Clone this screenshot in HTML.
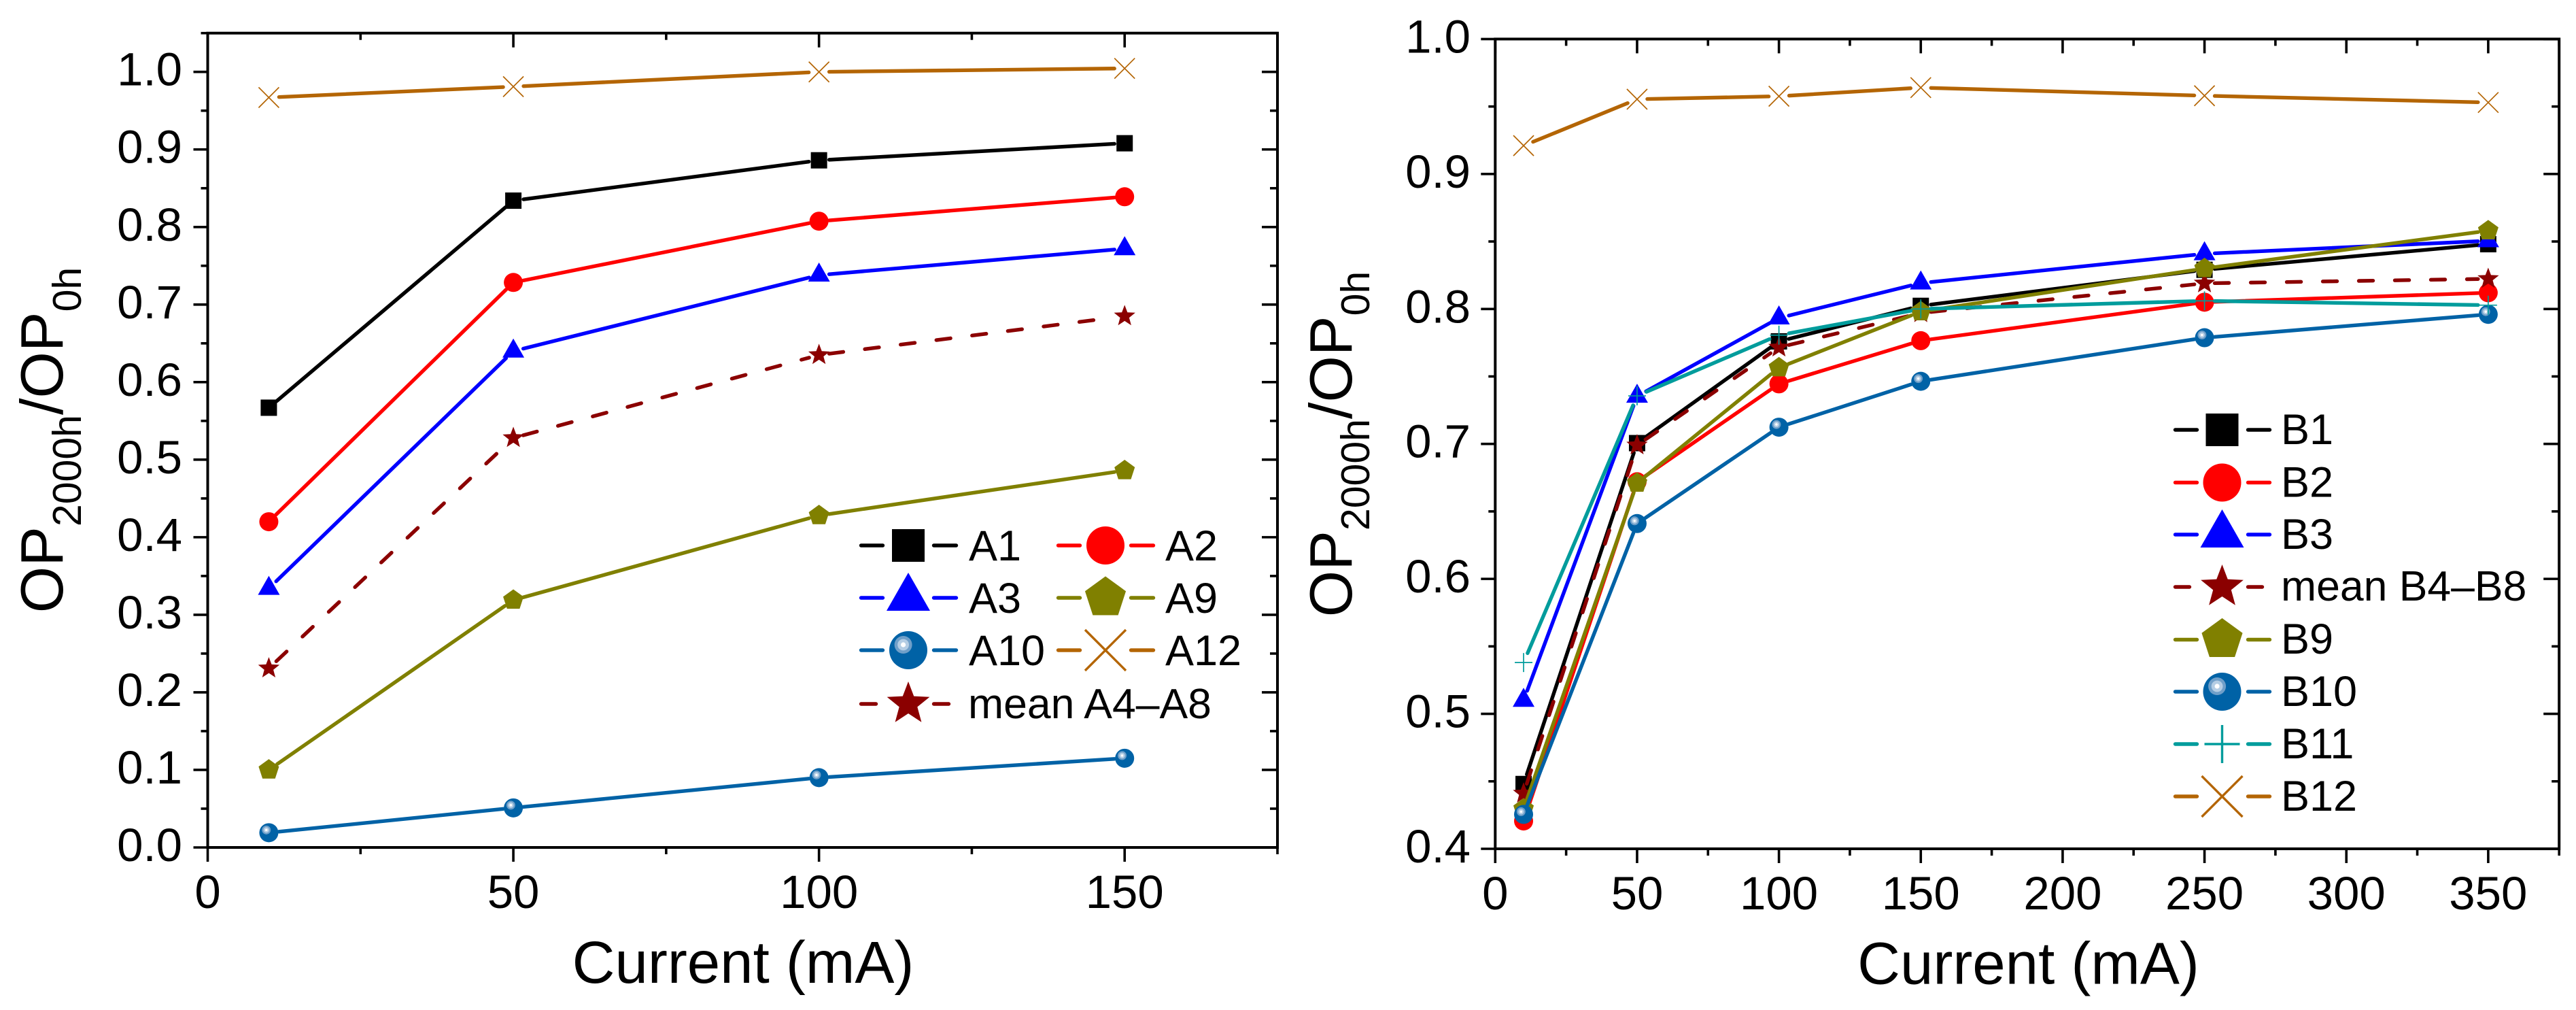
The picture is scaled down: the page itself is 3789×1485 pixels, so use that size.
<!DOCTYPE html>
<html lang="en">
<head>
<meta charset="utf-8">
<title>OP2000h/OP0h versus current</title>
<style>
html,body{margin:0;padding:0;background:#fff;}
svg{display:block;background:#fff;}
text{font-family:"Liberation Sans",Arial,sans-serif;fill:#000;}
</style>
</head>
<body>
<svg id="figure" xmlns="http://www.w3.org/2000/svg" width="3789" height="1485" viewBox="0 0 3789 1485">
  <g id="panel-a">
    <text x="1093" y="1445" font-size="87" text-anchor="middle">Current (mA)</text>
    <text transform="translate(92 647) rotate(-90)" font-size="88" text-anchor="middle">OP<tspan dy="27" font-size="59">2000h</tspan><tspan dy="-27">/OP</tspan><tspan dy="27" font-size="59">0h</tspan></text>
    <g id="axes-a"></g>
    <g id="marks-a"></g>
    <g font-size="63">
      <g id="leg-a1"><text x="1425" y="824">A1</text></g>
      <g id="leg-a2"><text x="1714" y="824">A2</text></g>
      <g id="leg-a3"><text x="1425" y="901">A3</text></g>
      <g id="leg-a9"><text x="1714" y="901">A9</text></g>
      <g id="leg-a10"><text x="1425" y="978">A10</text></g>
      <g id="leg-a12"><text x="1714" y="978">A12</text></g>
      <g id="leg-ameans"><text x="1424" y="1056" font-size="62.5">mean A4–A8</text></g>
    </g>
  </g>
  <g id="panel-b">
    <text x="2983.5" y="1446.5" font-size="87" text-anchor="middle">Current (mA)</text>
    <text transform="translate(1988 653) rotate(-90)" font-size="88" text-anchor="middle">OP<tspan dy="26" font-size="59">2000h</tspan><tspan dy="-26">/OP</tspan><tspan dy="26" font-size="59">0h</tspan></text>
    <g id="axes-b"></g>
    <g id="marks-b"></g>
    <g font-size="63">
      <g id="leg-b1"><text x="3355" y="653">B1</text></g>
      <g id="leg-b2"><text x="3355" y="730.5">B2</text></g>
      <g id="leg-b3"><text x="3355" y="807">B3</text></g>
      <g id="leg-bmeans"><text x="3355" y="883" font-size="62.5">mean B4–B8</text></g>
      <g id="leg-b9"><text x="3355" y="961">B9</text></g>
      <g id="leg-b10"><text x="3355" y="1038">B10</text></g>
      <g id="leg-b11"><text x="3355" y="1115">B11</text></g>
      <g id="leg-b12"><text x="3355" y="1192">B12</text></g>
    </g>
  </g>
</svg>
<script>
// ---- chart data: left panel ----
const currentsA = [10, 50, 100, 150];
const valuesA1 = [0.567, 0.834, 0.886, 0.908];
const valuesA2 = [0.420, 0.7285, 0.8075, 0.839];
const valuesA3 = [0.334, 0.640, 0.738, 0.772];
const valuesA9 = [0.100, 0.319, 0.428, 0.486];
const valuesA10 = [0.019, 0.051, 0.090, 0.115];
const valuesA12 = [0.967, 0.981, 1.000, 1.0045];
const valuesMeanA = [0.231, 0.528, 0.635, 0.685];
const xTickLabelsA = ['0', '50', '100', '150'];
const xMinorTicksA = [25, 75, 125, 175];
const yTickLabelsA = ['0.0', '0.1', '0.2', '0.3', '0.4', '0.5', '0.6', '0.7', '0.8', '0.9', '1.0'];
const yMinorTicksA = [0.05, 0.15, 0.25, 0.35, 0.45, 0.55, 0.65, 0.75, 0.85, 0.95, 1.05];

// ---- chart data: right panel ----
const currentsB = [10, 50, 100, 150, 250, 350];
const valuesB1 = [0.448, 0.7006, 0.776, 0.8023, 0.829, 0.848];
const valuesB2 = [0.4206, 0.672, 0.7445, 0.7765, 0.805, 0.812];
const valuesB3 = [0.510, 0.7353, 0.7933, 0.8192, 0.8409, 0.8505];
const valuesMeanB = [0.441, 0.699, 0.7715, 0.797, 0.819, 0.8223];
const valuesB9 = [0.4296, 0.671, 0.7565, 0.798, 0.830, 0.858];
const valuesB10 = [0.4255, 0.641, 0.7124, 0.7464, 0.7787, 0.796];
const valuesB11 = [0.538, 0.7356, 0.7806, 0.800, 0.806, 0.8028];
const valuesB12 = [0.921, 0.9554, 0.9576, 0.964, 0.958, 0.953];
const xTickLabelsB = ['0', '50', '100', '150', '200', '250', '300', '350'];
const xMinorTicksB = [25, 75, 125, 175, 225, 275, 325, 375];
const yTickLabelsB = ['0.4', '0.5', '0.6', '0.7', '0.8', '0.9', '1.0'];
const yMinorTicksB = [0.45, 0.55, 0.65, 0.75, 0.85, 0.95];

const BLACK = '#000000', RED = '#ff0000', BLUE = '#0000ff', MAROON = '#8b0000',
      OLIVE = '#808000', BALL = '#0062a6', TEAL = '#009c9c', BROWN = '#b46504';

const seriesA = [
  {name: 'a1', values: valuesA1, color: BLACK, marker: 'square'},
  {name: 'a2', values: valuesA2, color: RED, marker: 'circle'},
  {name: 'a3', values: valuesA3, color: BLUE, marker: 'triangle'},
  {name: 'a9', values: valuesA9, color: OLIVE, marker: 'pentagon'},
  {name: 'a10', values: valuesA10, color: BALL, marker: 'ball'},
  {name: 'a12', values: valuesA12, color: BROWN, marker: 'cross'},
  {name: 'mean-a4-a8', values: valuesMeanA, color: MAROON, marker: 'star', dashed: true}
];
const seriesB = [
  {name: 'b1', values: valuesB1, color: BLACK, marker: 'square'},
  {name: 'b2', values: valuesB2, color: RED, marker: 'circle'},
  {name: 'b3', values: valuesB3, color: BLUE, marker: 'triangle'},
  {name: 'mean-b4-b8', values: valuesMeanB, color: MAROON, marker: 'star', dashed: true},
  {name: 'b9', values: valuesB9, color: OLIVE, marker: 'pentagon'},
  {name: 'b10', values: valuesB10, color: BALL, marker: 'ball'},
  {name: 'b11', values: valuesB11, color: TEAL, marker: 'plus'},
  {name: 'b12', values: valuesB12, color: BROWN, marker: 'cross'}
];

const SVG_NS = 'http://www.w3.org/2000/svg';
const LINE_WIDTH = 5.4;
function mk(tag, attrs, parent) {
  const el = document.createElementNS(SVG_NS, tag);
  for (const k in attrs) el.setAttribute(k, attrs[k]);
  if (parent) parent.appendChild(el);
  return el;
}
function linear(d0, d1, r0, r1) {
  return function (v) { return r0 + (v - d0) * (r1 - r0) / (d1 - d0); };
}
function polyPoints(radii, count) {
  const pts = [];
  for (let i = 0; i < count; i++) {
    const a = -Math.PI / 2 + i * 2 * Math.PI / count;
    const r = radii[i % radii.length];
    pts.push((r * Math.cos(a)).toFixed(2) + ',' + (r * Math.sin(a)).toFixed(2));
  }
  return pts.join(' ');
}
function drawMarker(parent, kind, color, cx, cy, s, label) {
  const g = mk('g', {transform: 'translate(' + cx + ' ' + cy + ') scale(' + s + ')'}, parent);
  
  
  if (kind === 'square') {
    mk('rect', {x: -12, y: -12, width: 24, height: 24, fill: color}, g);
  } else if (kind === 'circle') {
    mk('circle', {r: 14, fill: color}, g);
  } else if (kind === 'triangle') {
    mk('polygon', {points: '0,-18.5 16,9.5 -16,9.5', fill: color}, g);
  } else if (kind === 'pentagon') {
    mk('polygon', {points: polyPoints([15.8], 5), fill: color}, g);
  } else if (kind === 'star') {
    mk('polygon', {points: polyPoints([16.5, 7], 10), fill: color}, g);
  } else if (kind === 'ball') {
    mk('circle', {r: 14, fill: color}, g);
    mk('circle', {cx: -3.7, cy: -4, r: 6.5, fill: '#6f9fc9'}, g);
    mk('circle', {cx: -3.7, cy: -4, r: 4.2, fill: '#b4cde4'}, g);
    mk('circle', {cx: -3.7, cy: -4, r: 1.8, fill: '#ffffff'}, g);
  } else if (kind === 'cross') {
    mk('path', {d: 'M-15,-15L15,15M-15,15L15,-15', stroke: color, 'stroke-width': 1.7, fill: 'none'}, g);
  } else if (kind === 'plus') {
    mk('path', {d: 'M-13,0L13,0M0,-14L0,14', stroke: color, 'stroke-width': 1.7, fill: 'none'}, g);
  }
  return g;
}
function drawSeries(parent, s, xs, xScale, yScale) {
  const g = mk('g', {}, parent);
  
  
  const gap = 15;
  for (let i = 0; i + 1 < xs.length; i++) {
    const x1 = xScale(xs[i]), y1 = yScale(s.values[i]);
    const x2 = xScale(xs[i + 1]), y2 = yScale(s.values[i + 1]);
    const len = Math.hypot(x2 - x1, y2 - y1);
    if (len <= 2 * gap) continue;
    const ux = (x2 - x1) / len, uy = (y2 - y1) / len;
    const seg = mk('line', {
      x1: x1 + ux * gap, y1: y1 + uy * gap, x2: x2 - ux * gap, y2: y2 - uy * gap,
      stroke: s.color, 'stroke-width': LINE_WIDTH, 'stroke-linecap': 'round'
    }, g);
    
    
    if (s.dashed) seg.setAttribute('stroke-dasharray', '21 32');
  }
  xs.forEach(function (xv, i) {
    drawMarker(g, s.marker, s.color, xScale(xv), yScale(s.values[i]), 1, 'marker-' + s.name);
  });
}
function drawAxes(parent, cfg) {
  const x0 = cfg.xRange[0], x1 = cfg.xRange[1], y0 = cfg.yRange[0], y1 = cfg.yRange[1];
  const frame = mk('rect', {x: x0, y: y1, width: x1 - x0, height: y0 - y1, fill: 'none', stroke: '#000', 'stroke-width': 4}, parent);
  
  
  function tick(a, b, c, d, label) {
    const t = mk('line', {x1: a, y1: b, x2: c, y2: d, stroke: '#000', 'stroke-width': 3.6}, parent);
    
    
  }
  cfg.xLabels.forEach(function (lab) {
    const px = cfg.x(parseFloat(lab));
    tick(px, y0, px, y0 + 21, 'x-major-tick');
    tick(px, y1, px, y1 + 21, 'x-major-tick-top');
    const t = mk('text', {x: px, y: cfg.xLabelY, 'font-size': 69, 'text-anchor': 'middle'}, parent);
    
    
    t.textContent = lab;
  });
  cfg.xMinor.forEach(function (v) {
    const px = cfg.x(v);
    tick(px, y0, px, y0 + 10, 'x-minor-tick');
    tick(px, y1, px, y1 + 10, 'x-minor-tick-top');
  });
  cfg.yLabels.forEach(function (lab) {
    const py = cfg.y(parseFloat(lab));
    tick(x0, py, x0 - 21, py, 'y-major-tick');
    tick(x1, py, x1 - 23, py, 'y-major-tick-right');
    const t = mk('text', {x: cfg.yLabelX, y: py + 20, 'font-size': 69, 'text-anchor': 'end'}, parent);
    
    
    t.textContent = lab;
  });
  cfg.yMinor.forEach(function (v) {
    const py = cfg.y(v);
    tick(x0, py, x0 - 10, py, 'y-minor-tick');
    tick(x1, py, x1 - 11, py, 'y-minor-tick-right');
  });
}
function drawKey(id, s, lx1, lx2, mx, rx1, rx2, y) {
  const parent = document.getElementById(id);
  [[lx1, lx2], [rx1, rx2]].forEach(function (r) {
    const l = mk('line', {x1: r[0] + 2.5, y1: y, x2: r[1] - 2.5, y2: y, stroke: s.color, 'stroke-width': LINE_WIDTH, 'stroke-linecap': 'round'}, parent);
    
    
  });
  drawMarker(parent, s.marker, s.color, mx, y, 2, 'legend-marker');
}

const xA = linear(0, 175, 305.5, 1879);
const yA = linear(0, 1.05, 1246, 48.7);
const xB = linear(0, 375, 2199.3, 3764.2);
const yB = linear(0.4, 1.0, 1248, 57.4);

drawAxes(document.getElementById('axes-a'), {
  x: xA, y: yA, xRange: [xA(0), xA(175)], yRange: [yA(0), yA(1.05)],
  xLabels: xTickLabelsA, xMinor: xMinorTicksA, yLabels: yTickLabelsA, yMinor: yMinorTicksA,
  xLabelY: 1335, yLabelX: 268
});
drawAxes(document.getElementById('axes-b'), {
  x: xB, y: yB, xRange: [xB(0), xB(375)], yRange: [yB(0.4), yB(1.0)],
  xLabels: xTickLabelsB, xMinor: xMinorTicksB, yLabels: yTickLabelsB, yMinor: yMinorTicksB,
  xLabelY: 1337, yLabelX: 2163
});

const marksA = document.getElementById('marks-a');
seriesA.forEach(function (s) { drawSeries(marksA, s, currentsA, xA, yA); });
const marksB = document.getElementById('marks-b');
seriesB.forEach(function (s) { drawSeries(marksB, s, currentsB, xB, yB); });

// legend keys, left panel
drawKey('leg-a1', seriesA[0], 1264, 1301, 1336, 1371, 1409, 802);
drawKey('leg-a2', seriesA[1], 1554, 1591, 1626, 1661, 1699, 802);
drawKey('leg-a3', seriesA[2], 1264, 1301, 1336, 1371, 1409, 879);
drawKey('leg-a9', seriesA[3], 1554, 1591, 1626, 1661, 1699, 879);
drawKey('leg-a10', seriesA[4], 1264, 1301, 1336, 1371, 1409, 956);
drawKey('leg-a12', seriesA[5], 1554, 1591, 1626, 1661, 1699, 956);
drawKey('leg-ameans', seriesA[6], 1264, 1291, 1336, 1371, 1398, 1035);
// legend keys, right panel
drawKey('leg-b1', seriesB[0], 3197, 3234, 3268.5, 3304, 3341, 632);
drawKey('leg-b2', seriesB[1], 3197, 3234, 3268.5, 3304, 3341, 709.5);
drawKey('leg-b3', seriesB[2], 3197, 3234, 3268.5, 3304, 3341, 786);
drawKey('leg-bmeans', seriesB[3], 3197, 3223, 3268.5, 3304, 3330, 863);
drawKey('leg-b9', seriesB[4], 3197, 3234, 3268.5, 3304, 3341, 940.5);
drawKey('leg-b10', seriesB[5], 3197, 3234, 3268.5, 3304, 3341, 1017);
drawKey('leg-b11', seriesB[6], 3197, 3234, 3268.5, 3304, 3341, 1094);
drawKey('leg-b12', seriesB[7], 3197, 3234, 3268.5, 3304, 3341, 1171);
</script>
</body>
</html>
